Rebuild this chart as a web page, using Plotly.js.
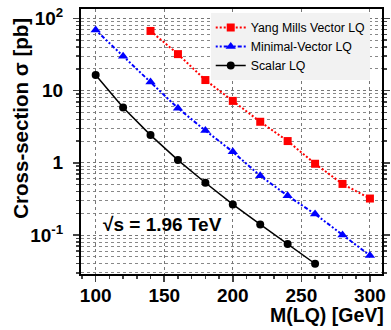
<!DOCTYPE html>
<html><head><meta charset="utf-8">
<script src="https://cdn.plot.ly/plotly-3.0.1.min.js"></script>
<style>body{margin:0;padding:0;background:#fff}#c{width:391px;height:330px}</style>
</head><body><div id="c"></div>
<script>
const massYM = [140,160,180,200,220,240,260,280,300];
const sigmaYM = [67,32,14,7.2,3.7,2.0,0.97,0.51,0.32];
const massMV = [100,120,140,160,180,200,220,240,260,280,300];
const sigmaMV = [69,30,13.2,5.7,2.8,1.42,0.66,0.35,0.195,0.1,0.052];
const massSC = [100,120,140,160,180,200,220,240,260];
const sigmaSC = [16.4,5.85,2.42,1.09,0.53,0.265,0.14,0.075,0.040];
const yTickVals = [0.1,1,10,100];
const yTickText = ['10<sup>-1</sup>','1','10','10<sup>2</sup>'];
const xTickVals = [100,150,200,250,300];

const F = 'Arial, Liberation Sans, sans-serif';
const traces = [
 {x:massYM,y:sigmaYM,name:'Yang Mills Vector LQ',mode:'lines+markers',
  line:{color:'#ff0000',width:2,dash:'2px,2px'},marker:{symbol:'square',size:8,color:'#ff0000'}},
 {x:massMV,y:sigmaMV,name:'Minimal-Vector LQ',mode:'lines+markers',
  line:{color:'#0000ff',width:2,dash:'2px,2px,2px,2px,4px,2px'},marker:{symbol:'triangle-up',size:9,color:'#0000ff'}},
 {x:massSC,y:sigmaSC,name:'Scalar LQ',mode:'lines+markers',
  line:{color:'#000000',width:1.5},marker:{symbol:'circle',size:8,color:'#000000'}}
];
const layout = {
 width:391,height:330,margin:{l:81,r:9,t:9,b:56},
 paper_bgcolor:'#fff',plot_bgcolor:'#fff',showlegend:true,
 font:{family:F,color:'#000'},
 xaxis:{range:[89.3,308.8],tickvals:xTickVals,ticktext:xTickVals.map(String),
  tickfont:{family:F,size:19,weight:'bold'},ticks:'outside',ticklen:6,tickwidth:1.5,
  ticklabelstandoff:-3,
  showline:true,linewidth:2,linecolor:'#000',mirror:true,
  showgrid:true,gridcolor:'#777',griddash:'dot',gridwidth:1,zeroline:false,
  minor:{dtick:10,tick0:100,ticks:'outside',ticklen:3,tickwidth:1.5,showgrid:false}},
 yaxis:{type:'log',range:[-1.54,2.13],tickvals:yTickVals,ticktext:yTickText,
  tickfont:{family:F,size:19,weight:'bold'},ticks:'outside',ticklen:6,tickwidth:1.5,
  ticklabelstandoff:6,
  showline:true,linewidth:2,linecolor:'#000',mirror:'ticks',
  showgrid:true,gridcolor:'#777',griddash:'dot',gridwidth:1,zeroline:false,
  minor:{dtick:'D1',ticks:'outside',ticklen:3,tickwidth:1.5,showgrid:true,gridcolor:'#888',griddash:'dot',gridwidth:1}},
 legend:{x:0.431,y:0.985,xanchor:'left',yanchor:'top',bgcolor:'#f2f2f2',
  font:{family:F,size:12.3},tracegroupgap:0,itemwidth:30},
 annotations:[
  {text:'Cross-section σ [pb]',xref:'paper',yref:'paper',x:-0.2,y:0.589,textangle:-90,
   showarrow:false,font:{family:F,size:20.5,weight:'bold'},xanchor:'center',yanchor:'middle'},
  {text:'M(LQ) [GeV]',xref:'paper',yref:'paper',x:1.012,y:-0.156,showarrow:false,
   font:{family:F,size:19.5,weight:'bold'},xanchor:'right',yanchor:'middle'},
  {text:'√s = 1.96 TeV',xref:'paper',yref:'paper',x:0.065,y:0.185,showarrow:false,
   font:{family:F,size:19,weight:'bold'},xanchor:'left',yanchor:'middle'}
 ]
};
Plotly.newPlot('c',traces,layout,{displayModeBar:false,staticPlot:true});
</script></body></html>
